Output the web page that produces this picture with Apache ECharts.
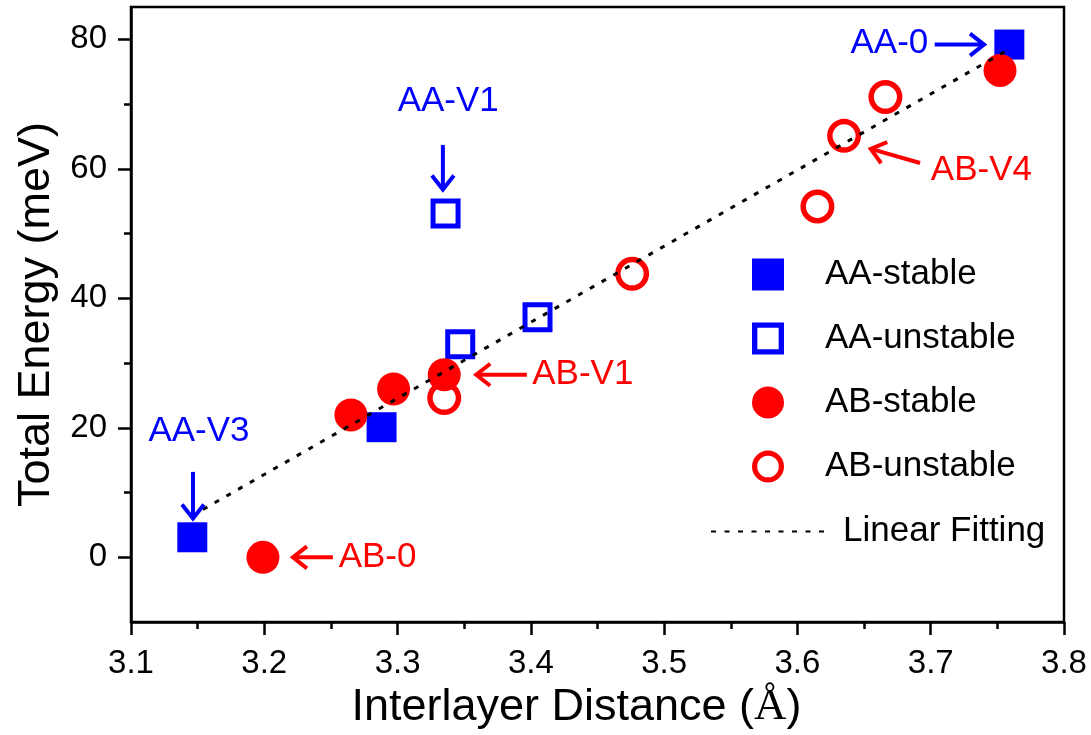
<!DOCTYPE html>
<html>
<head>
<meta charset="utf-8">
<script src="https://cdn.jsdelivr.net/npm/echarts@6/dist/echarts.min.js"></script>
<style>html,body{margin:0;padding:0;background:#fff}#c{width:1091px;height:735px}</style>
</head>
<body>
<div id="c"></div>
<script>
// ---- data ----
const aaStableX = [3.146, 3.288, 3.759];
const aaStableY = [3.1, 20.1, 79.2];
const aaUnstableX = [3.336, 3.347, 3.405];
const aaUnstableY = [53.1, 32.9, 37.1];
const abStableX = [3.199, 3.265, 3.297, 3.335, 3.752];
const abStableY = [0, 22, 26, 28.2, 75.2];
const abUnstableX = [3.335, 3.476, 3.615, 3.635, 3.666];
const abUnstableY = [24.6, 43.8, 54.2, 65.1, 71.1];
const fitX = [3.154, 3.759];
const fitY = [7.4, 78.5];
const yTickValues = [0, 20, 40, 60, 80];
const yMinorTickValues = [10, 30, 50, 70];
const annoLabels = ['AA-V1', 'AA-V3', 'AA-0', 'AB-V4', 'AB-V1', 'AB-0'];
const annoGroups = ['AA', 'AA', 'AA', 'AB', 'AB', 'AB'];
const annoTextX = [3.338, 3.151, 3.669, 3.738, 3.439, 3.285];
const annoTextY = [70.5, 19.5, 79.4, 59.8, 28.2, 0];
const arrowFromX = [3.334, 3.1465, 3.703, 3.692, 3.397, 3.2515];
const arrowFromY = [63.7, 13.2, 79.2, 60.9, 28.2, 0];
const arrowToX = [3.334, 3.1465, 3.740, 3.655, 3.359, 3.2215];
const arrowToY = [56.8, 6.0, 79.2, 63.1, 28.2, 0];

// ---- helpers ----
const zip = (a, b) => a.map((v, i) => [v, b[i]]);
const BLUE = '#0000ff', RED = '#ff0000';
const groupColor = g => (g === 'AA' ? BLUE : RED);
const FONT = 'Liberation Sans, Arial, sans-serif';
const squareRing = 'path://M0,0 L30,0 L30,30 L0,30 Z M5,5 L5,25 L25,25 L25,5 Z';
const circleRing = 'path://M17,0 A17,17 0 1,1 17,34 A17,17 0 1,1 17,0 Z M17,5.5 A11.5,11.5 0 1,0 17,28.5 A11.5,11.5 0 1,0 17,5.5 Z';

const chart = echarts.init(document.getElementById('c'), null, {renderer: 'canvas'});

function renderArrow(params, api) {
  const p1 = api.coord([api.value(0), api.value(1)]);
  const p2 = api.coord([api.value(2), api.value(3)]);
  const color = groupColor(annoGroups[params.dataIndex]);
  const dx = p2[0] - p1[0], dy = p2[1] - p1[1];
  const len = Math.hypot(dx, dy);
  const ux = dx / len, uy = dy / len;
  const hl = 14, hw = 11;
  const b = [p2[0] - ux * hl, p2[1] - uy * hl];
  return {
    type: 'group',
    children: [
      {type: 'line', shape: {x1: p1[0], y1: p1[1], x2: p2[0] - ux * 2, y2: p2[1] - uy * 2},
       style: {stroke: color, lineWidth: 4}},
      {type: 'polyline', shape: {points: [[b[0] - uy * hw, b[1] + ux * hw], p2, [b[0] + uy * hw, b[1] - ux * hw]]},
       style: {stroke: color, lineWidth: 4, fill: null, lineJoin: 'miter'}}
    ]
  };
}

const axisCommon = {
  axisLine: {show: true, onZero: false, lineStyle: {color: '#000', width: 2.5}},
  splitLine: {show: false},
};

const option = {
  animation: false,
  backgroundColor: '#fff',
  textStyle: {fontFamily: FONT},
  grid: {left: 131, right: 27, top: 7, bottom: 109, show: true, borderColor: '#000', borderWidth: 2.5, containLabel: false},
  xAxis: Object.assign({
    type: 'value', min: 3.1, max: 3.8, interval: 0.1,
    name: '{a|Interlayer Distance (}{b|Å}{a|)}',
    nameLocation: 'middle', nameGap: 55,
    nameTextStyle: {padding: [0, 42, 0, 0], rich: {
      a: {fontFamily: FONT, fontSize: 45, color: '#000'},
      b: {fontFamily: 'Liberation Serif, Times New Roman, serif', fontSize: 45, color: '#000'}
    }},
    axisTick: {show: true, inside: false, length: 13, lineStyle: {color: '#000', width: 2.5}},
    minorTick: {show: true, splitNumber: 2, length: 7, lineStyle: {color: '#000', width: 2.5}},
    axisLabel: {fontFamily: FONT, fontSize: 33, color: '#000', margin: 25, formatter: v => v.toFixed(1)}
  }, axisCommon),
  yAxis: [
    Object.assign({
      type: 'value', min: -10, max: 85,
      name: 'Total Energy (meV)', nameLocation: 'middle', nameGap: 72,
      nameTextStyle: {fontFamily: FONT, fontSize: 45, color: '#000'},
      axisTick: {show: true, inside: false, length: 13, customValues: yTickValues, lineStyle: {color: '#000', width: 2.5}},
      axisLabel: {fontFamily: FONT, fontSize: 33, color: '#000', margin: 24, customValues: yTickValues}
    }, axisCommon),
    {
      type: 'value', min: -10, max: 85, position: 'left',
      axisLine: {show: false}, splitLine: {show: false}, axisLabel: {show: false},
      axisTick: {show: true, inside: false, length: 7, customValues: yMinorTickValues, lineStyle: {color: '#000', width: 2.5}}
    }
  ],
  legend: [
    {
      data: ['AA-stable', 'AA-unstable', 'AB-stable', 'AB-unstable'],
      orient: 'vertical', left: 752, top: 257, padding: 0,
      itemWidth: 32, itemHeight: 32, itemGap: 29,
      textStyle: {fontFamily: FONT, fontSize: 35, color: '#000', padding: [0, 0, 0, 36]},
      selectedMode: false
    },
    {
      data: ['Linear Fitting'],
      orient: 'vertical', left: 710, top: 514, padding: 0,
      itemWidth: 113, itemHeight: 14,
      itemStyle: {opacity: 0},
      lineStyle: {width: 2},
      textStyle: {fontFamily: FONT, fontSize: 35, color: '#000', padding: [0, 0, 0, 14]},
      selectedMode: false
    }
  ],
  series: [
    {name: 'AA-stable', type: 'scatter', data: zip(aaStableX, aaStableY), symbol: 'rect', symbolSize: 30,
     itemStyle: {color: BLUE, opacity: 1}, z: 3},
    {name: 'AA-unstable', type: 'scatter', data: zip(aaUnstableX, aaUnstableY), symbol: squareRing, symbolSize: 30,
     itemStyle: {color: BLUE, opacity: 1}, z: 3},
    {name: 'AB-stable', type: 'scatter', data: zip(abStableX, abStableY), symbol: 'circle', symbolSize: 33,
     itemStyle: {color: RED, opacity: 1}, z: 4},
    {name: 'AB-unstable', type: 'scatter', data: zip(abUnstableX, abUnstableY), symbol: circleRing, symbolSize: 34,
     itemStyle: {color: RED, opacity: 1}, z: 4},
    {name: 'Linear Fitting', type: 'line', data: zip(fitX, fitY), symbol: 'none', z: 6,
     lineStyle: {color: '#000', width: 3, type: [5, 8.5]}, itemStyle: {color: '#000'}},
    {name: 'arrows', type: 'custom', renderItem: renderArrow, z: 7,
     encode: {x: [0, 2], y: [1, 3]},
     data: arrowFromX.map((v, i) => [v, arrowFromY[i], arrowToX[i], arrowToY[i]])},
    {name: 'labels', type: 'scatter', symbolSize: 0, z: 7,
     itemStyle: {opacity: 1},
     data: annoLabels.map((t, i) => ({value: [annoTextX[i], annoTextY[i]], name: t,
       label: {color: groupColor(annoGroups[i])}})),
     label: {show: true, position: 'inside', opacity: 1, formatter: p => p.name, fontFamily: FONT, fontSize: 35}}
  ]
};
chart.setOption(option);
</script>
</body>
</html>
